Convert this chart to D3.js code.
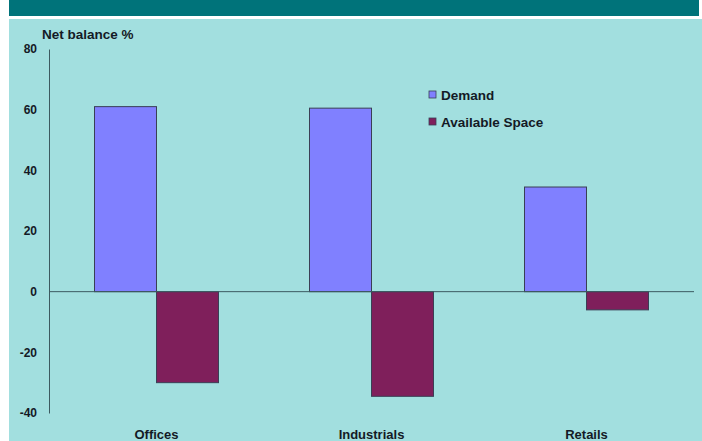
<!DOCTYPE html>
<html>
<head>
<meta charset="utf-8">
<script src="https://cdn.jsdelivr.net/npm/d3@7"></script>
<style>
  html, body { margin: 0; padding: 0; background: #ffffff; }
  svg { display: block; }
  text { font-family: "Liberation Sans", Arial, sans-serif; font-weight: bold; fill: #141a26; }
</style>
</head>
<body>
<svg id="chart" width="702" height="441"></svg>
<script>
// Survey net balances by property sector
const categories = ["Offices", "Industrials", "Retails"];
const seriesNames = ["Demand", "Available Space"];
const demand = [61, 60.5, 34.5];
const availableSpace = [-30, -34.5, -6];
const yTicks = [80, 60, 40, 20, 0, -20, -40];
const seriesColors = ["#8080ff", "#7f1f5b"];

const svg = d3.select("#chart");
const W = 702, H = 441;

// header band and chart panel
svg.append("rect").attr("x", 9).attr("y", 0).attr("width", 690).attr("height", 16).attr("fill", "#00737a");
svg.append("rect").attr("x", 9).attr("y", 19).attr("width", W - 9).attr("height", H - 19).attr("fill", "#a2dfdf");

const plot = { left: 49, right: 694, top: 49, bottom: 413 };

const x = d3.scaleBand().domain(categories).range([plot.left, plot.right]).paddingInner(0).paddingOuter(0);
const groupWidth = 124;
const xs = d3.scaleBand().domain(seriesNames).range([0, groupWidth]);
const y = d3.scaleLinear().domain([-40, 80]).range([plot.bottom, plot.top]);

const rows = categories.map((c, i) => ({ cat: c, values: [demand[i], availableSpace[i]] }));

// bars
const groups = svg.append("g").selectAll("g").data(rows).join("g")
  .attr("transform", d => `translate(${x(d.cat) + (x.bandwidth() - groupWidth) / 2},0)`);
groups.selectAll("rect").data(d => d.values.map((v, k) => ({ v, s: seriesNames[k], k })))
  .join("rect")
  .attr("x", d => xs(d.s))
  .attr("width", xs.bandwidth())
  .attr("y", d => y(Math.max(0, d.v)))
  .attr("height", d => Math.abs(y(d.v) - y(0)))
  .attr("fill", d => seriesColors[d.k])
  .attr("stroke", "#3a3f55")
  .attr("stroke-width", 1);

// zero line
svg.append("line")
  .attr("x1", plot.left).attr("x2", plot.right)
  .attr("y1", y(0)).attr("y2", y(0))
  .attr("stroke", "#3c5a60").attr("stroke-width", 1);

// y axis
const yAxis = d3.axisLeft(y).tickValues(yTicks).tickSize(0).tickPadding(12).tickFormat(d => String(d));
const ya = svg.append("g").attr("transform", `translate(${plot.left},0)`).call(yAxis);
ya.select(".domain").attr("stroke", "#3c5a60");
ya.selectAll("text").attr("font-size", 12).style("font-family", "'Liberation Sans', Arial, sans-serif").style("font-weight", "bold").attr("fill", "#141a26");

// x axis labels
const xAxis = d3.axisBottom(x).tickSize(0).tickPadding(0);
const xa = svg.append("g").attr("transform", `translate(0,${439})`).call(xAxis);
xa.select(".domain").remove();
xa.selectAll("text").attr("font-size", 13).attr("y", 0).attr("dy", 0).style("font-family", "'Liberation Sans', Arial, sans-serif").style("font-weight", "bold").attr("fill", "#141a26");

// axis title
svg.append("text").attr("x", 42).attr("y", 39).attr("font-size", 13.5).text("Net balance %");

// legend
const legend = svg.append("g").attr("transform", "translate(429,91)");
seriesNames.forEach((name, i) => {
  const g = legend.append("g").attr("transform", `translate(0,${i * 27})`);
  g.append("rect").attr("width", 7).attr("height", 7).attr("fill", seriesColors[i]).attr("stroke", "#3a3f55").attr("stroke-width", 0.8);
  g.append("text").attr("x", 12).attr("y", 4).attr("dy", "0.35em").attr("font-size", 13.5).text(name);
});
</script>
</body>
</html>
